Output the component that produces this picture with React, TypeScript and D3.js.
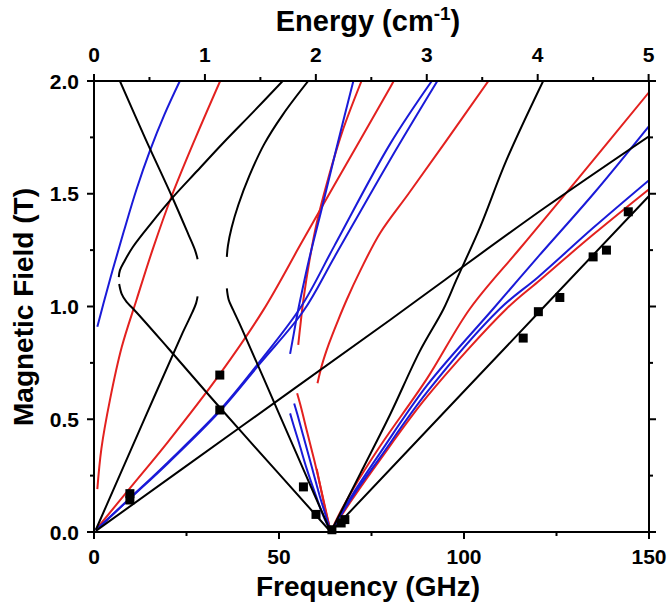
import React from 'react'
import * as d3 from 'd3'

// ---- axes ----
const freqTicks = [0, 50, 100, 150]
const freqMinor = [25, 75, 125]
const energyTicks = [0, 1, 2, 3, 4, 5]
const energyMinor = [0.5, 1.5, 2.5, 3.5, 4.5]
const fieldTicks = [0, 0.5, 1.0, 1.5, 2.0]
const fieldMinor = [0.25, 0.75, 1.25, 1.75]
const GHZ_PER_CM = 29.9792

// ---- measured points (GHz, T) ----
const expFreq = [9.7, 9.7, 34.0, 34.0, 56.6, 60.0, 64.3, 66.8, 67.8, 116.0, 120.1, 125.9, 134.9, 138.5, 144.4]
const expField = [0.17, 0.142, 0.696, 0.541, 0.2, 0.078, 0.01, 0.04, 0.055, 0.86, 0.977, 1.04, 1.22, 1.25, 1.42]

// ---- simulated branches: [GHz, T] ----
// black
const blackA = [[7, 2.0], [14, 1.74], [21, 1.49], [25.5, 1.32], [27.3, 1.25], [28.0, 1.21]]
const blackH = [[0.5, 0.01], [14, 0.515], [24, 0.885], [26.6, 0.975], [27.6, 1.015], [28.0, 1.045]]
const blackB = [[51, 2.0], [43, 1.862], [34.9, 1.725], [28, 1.603], [21.4, 1.486], [15.5, 1.37], [10.5, 1.264], [8.2, 1.2], [7.0, 1.16], [6.7, 1.13]]
const blackC = [[6.8, 1.1], [7.5, 1.055], [8.8, 1.02], [10.6, 0.99], [20, 0.816], [34, 0.552], [50, 0.258], [60, 0.074], [64, 0.0]]
const blackE = [[57.9, 2.0], [51, 1.85], [46, 1.72], [42, 1.58], [39, 1.45], [37.2, 1.35], [36.2, 1.27], [35.9, 1.22]]
const blackF = [[35.9, 1.08], [36.4, 1.03], [37.6, 0.985], [40, 0.9], [50, 0.525], [57, 0.262], [64, 0.0]]
const blackG = [[0.5, 0.005], [40, 0.47], [80, 0.94], [95, 1.12], [122, 1.44], [150, 1.755]]
const blackS = [[64, 0.0], [72, 0.26], [80, 0.52], [88, 0.8], [94.5, 0.99], [98, 1.12], [104.3, 1.35], [111.5, 1.65], [121.4, 2.0]]
const blackL = [[64, 0.0], [100, 0.624], [150, 1.49]]
// red
const redA = [[0.9, 0.19], [2, 0.37], [4.3, 0.585], [7.5, 0.82], [11.5, 1.03], [16, 1.26], [21, 1.49], [27.5, 1.75], [34.1, 2.0]]
const redOrigin = [[0.5, 0.01], [10, 0.2], [20, 0.4], [34, 0.7], [45.8, 0.985], [56, 1.28], [65, 1.54], [80, 1.97], [81, 2.0]]
const redC = [[55.2, 0.83], [55.8, 0.92], [56.6, 1.03], [58.2, 1.2], [60.2, 1.37], [63, 1.55], [67, 1.77], [72.3, 2.0]]
const redD = [[60.4, 0.66], [61.6, 0.74], [63.5, 0.835], [66, 0.94], [68.3, 1.03], [72, 1.16], [77.3, 1.325], [85, 1.5], [95, 1.73], [106.6, 2.0]]
const redV1 = [[54.9, 0.615], [56, 0.55], [57.5, 0.45], [59.5, 0.32], [61.5, 0.18], [63, 0.07], [64, 0.0]]
const redV2 = [[60.2, 0.28], [61.2, 0.2], [62.5, 0.1], [64, 0.0]]
const redE = [[64, 0.0], [66, 0.07], [70, 0.19], [77.3, 0.38], [90, 0.68], [101.6, 0.99], [115, 1.255], [130, 1.55], [150, 1.95]]
const redF = [[64, 0.0], [70, 0.15], [77.3, 0.32], [90, 0.6], [111.5, 0.99], [120, 1.11], [135, 1.32], [150, 1.52]]
// blue
const blueA = [[0.9, 0.91], [2.5, 1.01], [5, 1.16], [8, 1.33], [11.5, 1.52], [15.1, 1.69], [19, 1.85], [23.2, 2.0]]
const blueOrigin1 = [[0.5, 0.008], [9.7, 0.15], [20, 0.31], [34, 0.54], [45, 0.76], [56, 1.0], [65, 1.27], [80, 1.72], [91.3, 2.0]]
const blueOrigin2 = [[0.5, 0.008], [9.7, 0.148], [20, 0.305], [34, 0.535], [45, 0.75], [56.6, 0.98], [65, 1.22], [80, 1.65], [92.8, 2.0]]
const blueC = [[53, 0.79], [54, 0.88], [55, 0.97], [56, 1.05], [58, 1.2], [61.5, 1.43], [65.5, 1.7], [70.1, 2.0]]
const blueV1 = [[53, 0.526], [54, 0.47], [55.5, 0.39], [57.5, 0.28], [60, 0.16], [62, 0.07], [64, 0.0]]
const blueV2 = [[54.1, 0.57], [55, 0.52], [56.5, 0.43], [58.5, 0.31], [61, 0.16], [62.5, 0.08], [64, 0.0]]
const blueE = [[64, 0.0], [66, 0.06], [70, 0.17], [77.3, 0.35], [90, 0.65], [107.9, 0.99], [120, 1.22], [135, 1.5], [150, 1.8]]
const blueF = [[64, 0.0], [70, 0.16], [77.3, 0.33], [90, 0.62], [109.7, 0.99], [120, 1.13], [135, 1.35], [150, 1.56]]

const BLACK = '#000000'
const RED = '#e3211f'
const BLUE = '#1a1ad8'

const branches = [
  {pts: redA, color: RED}, {pts: redOrigin, color: RED}, {pts: redC, color: RED}, {pts: redD, color: RED},
  {pts: redV1, color: RED}, {pts: redV2, color: RED}, {pts: redE, color: RED}, {pts: redF, color: RED},
  {pts: blueA, color: BLUE}, {pts: blueOrigin1, color: BLUE}, {pts: blueOrigin2, color: BLUE}, {pts: blueC, color: BLUE},
  {pts: blueV1, color: BLUE}, {pts: blueV2, color: BLUE}, {pts: blueE, color: BLUE}, {pts: blueF, color: BLUE},
  {pts: blackA, color: BLACK}, {pts: blackH, color: BLACK}, {pts: blackB, color: BLACK}, {pts: blackC, color: BLACK},
  {pts: blackE, color: BLACK}, {pts: blackF, color: BLACK}, {pts: blackG, color: BLACK}, {pts: blackS, color: BLACK},
  {pts: blackL, color: BLACK},
]

const W = 670, H = 603
const x0 = 94, x1 = 649, y0 = 532, y1 = 81
const FONT = '"Liberation Sans", Arial, sans-serif'

export default function App() {
  const x = d3.scaleLinear().domain([0, 150]).range([x0, x1])
  const y = d3.scaleLinear().domain([0, 2]).range([y0, y1])
  const line = d3.line<number[]>()
    .x(d => x(d[0]))
    .y(d => y(d[1]))
    .curve(d3.curveCatmullRom.alpha(0.5))

  const major = 7, minor = 4
  const ax = {stroke: '#000', strokeWidth: 2}
  const tickFont = 21
  const titleFont = 28

  return (
    <svg width={W} height={H} style={{position: 'absolute', left: 0, top: 0, background: '#fff'}}
         fontFamily={FONT} fontWeight="bold">
      <defs>
        <clipPath id="plot">
          <rect x={x0} y={y1} width={x1 - x0} height={y0 - y1} />
        </clipPath>
      </defs>

      <g clipPath="url(#plot)" fill="none" strokeWidth={2}>
        {branches.map((b, i) => (
          <path key={i} d={line(b.pts) || ''} stroke={b.color} />
        ))}
      </g>

      {expFreq.map((f, i) => (
        <rect key={i} x={x(f) - 4.5} y={y(expField[i]) - 4.5} width={9} height={9} fill="#000" />
      ))}

      {/* frame */}
      <rect x={x0} y={y1} width={x1 - x0} height={y0 - y1} fill="none" {...ax} />

      {/* bottom axis */}
      {freqTicks.map(t => (
        <g key={'b' + t}>
          <line x1={x(t)} x2={x(t)} y1={y0} y2={y0 + major} {...ax} />
          <text x={x(t)} y={y0 + 32} textAnchor="middle" fontSize={tickFont}>{t}</text>
        </g>
      ))}
      {freqMinor.map(t => (
        <line key={'bm' + t} x1={x(t)} x2={x(t)} y1={y0} y2={y0 + minor} {...ax} />
      ))}

      {/* top axis (energy) */}
      {energyTicks.map(t => (
        <g key={'t' + t}>
          <line x1={x(t * GHZ_PER_CM)} x2={x(t * GHZ_PER_CM)} y1={y1} y2={y1 - major} {...ax} />
          <text x={x(t * GHZ_PER_CM)} y={y1 - 19} textAnchor="middle" fontSize={tickFont}>{t}</text>
        </g>
      ))}
      {energyMinor.map(t => (
        <line key={'tm' + t} x1={x(t * GHZ_PER_CM)} x2={x(t * GHZ_PER_CM)} y1={y1} y2={y1 - minor} {...ax} />
      ))}

      {/* left axis */}
      {fieldTicks.map(t => (
        <g key={'l' + t}>
          <line x1={x0} x2={x0 - major} y1={y(t)} y2={y(t)} {...ax} />
          <text x={x0 - 15} y={y(t) + 7.5} textAnchor="end" fontSize={tickFont}>{t.toFixed(1)}</text>
        </g>
      ))}
      {fieldMinor.map(t => (
        <line key={'lm' + t} x1={x0} x2={x0 - minor} y1={y(t)} y2={y(t)} {...ax} />
      ))}

      {/* right axis */}
      {fieldTicks.map(t => (
        <line key={'r' + t} x1={x1} x2={x1 + major} y1={y(t)} y2={y(t)} {...ax} />
      ))}
      {fieldMinor.map(t => (
        <line key={'rm' + t} x1={x1} x2={x1 + minor} y1={y(t)} y2={y(t)} {...ax} />
      ))}

      {/* titles */}
      <text x={368} y={596} textAnchor="middle" fontSize={titleFont}>Frequency (GHz)</text>
      <text x={368} y={31} textAnchor="middle" fontSize={29}>
        Energy (cm<tspan dy={-11} fontSize={19}>-1</tspan><tspan dy={11}>)</tspan>
      </text>
      <text transform={`translate(33,307) rotate(-90)`} textAnchor="middle" fontSize={titleFont}>
        Magnetic Field (T)
      </text>
    </svg>
  )
}
